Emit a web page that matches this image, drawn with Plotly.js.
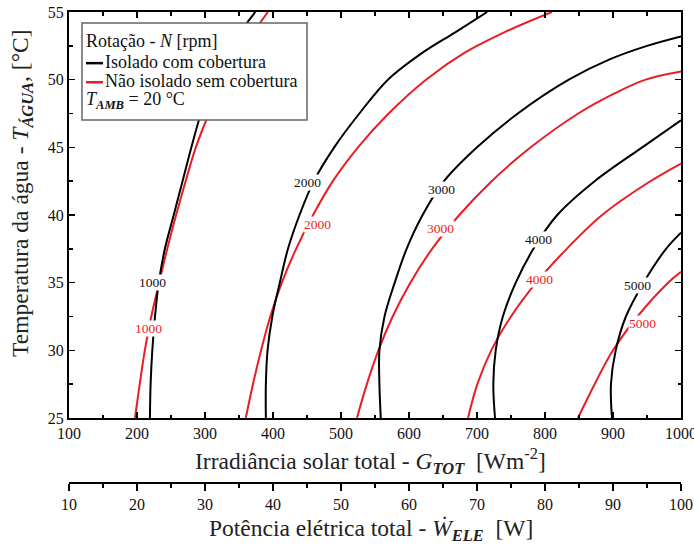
<!DOCTYPE html>
<html>
<head>
<meta charset="utf-8">
<script src="https://cdn.plot.ly/plotly-3.0.1.min.js"></script>
<style>body{margin:0;padding:0;background:#fff}#chart{width:694px;height:546px}</style>
</head>
<body>
<div id="chart"></div>
<script>
// Rotation levels [rpm]
const rpm = [1000, 2000, 3000, 4000, 5000];

// Isolado com cobertura (black): G_TOT [W/m2] vs T_AGUA [C]
const isoG1000 = [219, 220, 222.5, 226.5, 232, 241, 254, 267, 280, 294, 312, 338, 374];
const isoT1000 = [25, 27.5, 30, 32.5, 35, 37.5, 40, 42.5, 45, 47.5, 50, 52.5, 55];
const isoG2000 = [389.5, 389.5, 392, 399, 410, 422, 439, 460, 490, 527, 569, 620, 668, 715];
const isoT2000 = [25, 27.5, 30, 32.5, 35, 37.5, 40, 42.5, 45, 47.5, 50, 52, 53.5, 55];
const isoG3000 = [558.5, 556.5, 556.5, 564, 579, 596.5, 620, 651.5, 700, 760, 835, 895, 950, 1000];
const isoT3000 = [25, 27.5, 30, 32.5, 35, 37.5, 40, 42.5, 45, 47.5, 50, 51.5, 52.5, 53.2];
const isoG4000 = [726.5, 724, 727.5, 738, 757, 783, 818, 873, 943, 1000];
const isoT4000 = [25, 27.5, 30, 32.5, 35, 37.5, 40, 42.5, 45, 47];
const isoG5000 = [898.5, 897, 904, 919, 945, 978, 1000];
const isoT5000 = [25, 27.5, 30, 32.5, 35, 37.5, 38.7];

// Nao isolado sem cobertura (red)
const naoG1000 = [197, 204, 211.5, 221, 232.5, 244.5, 257.5, 271.5, 286.5, 306, 329, 358, 392.5];
const naoT1000 = [25, 27.5, 30, 32.5, 35, 37.5, 40, 42.5, 45, 47.5, 50, 52.5, 55];
const naoG2000 = [360, 370.5, 382.5, 396, 413, 434, 459, 488, 525, 570, 625, 682, 740, 810];
const naoT2000 = [25, 27.5, 30, 32.5, 35, 37.5, 40, 42.5, 45, 47.5, 50, 52, 53.5, 55];
const naoG3000 = [523.5, 538, 555, 576, 602, 634, 674, 721.5, 779, 849, 903, 948, 1000];
const naoT3000 = [25, 27.5, 30, 32.5, 35, 37.5, 40, 42.5, 45, 47.5, 49, 50, 50.6];
const naoG4000 = [686.8, 700.5, 721, 750, 787, 832, 884, 952, 1000];
const naoT4000 = [25, 27.5, 30, 32.5, 35, 37.5, 40, 42.4, 43.8];
const naoG5000 = [848.5, 873, 900, 936, 981, 1000];
const naoT5000 = [25, 27.5, 30, 32.5, 35, 35.8];

// Curve label positions (data coords)
const isoLabelG = [223.5, 450.0, 648.5, 789.7, 935.3];
const isoLabelT = [35.0, 42.4, 41.85, 38.2, 34.8];
const naoLabelG = [216.2, 465.0, 645.6, 792.6, 944.1];
const naoLabelT = [31.65, 39.3, 39.0, 35.2, 32.0];

// Secondary axis (electrical power, W)
const powerRange = [10, 100];

const BLACK = '#000000';
const RED = 'rgb(234,28,36)';
const FONT = 'Liberation Serif, Times New Roman, serif';

const isoG = [isoG1000, isoG2000, isoG3000, isoG4000, isoG5000];
const isoT = [isoT1000, isoT2000, isoT3000, isoT4000, isoT5000];
const naoG = [naoG1000, naoG2000, naoG3000, naoG4000, naoG5000];
const naoT = [naoT1000, naoT2000, naoT3000, naoT4000, naoT5000];

const traces = [];
rpm.forEach((n, i) => {
  traces.push({x: naoG[i], y: naoT[i], type: 'scatter', mode: 'lines', name: 'Não isolado ' + n,
    line: {color: RED, width: 2, shape: 'spline', smoothing: 1}, hoverinfo: 'skip', showlegend: false});
  traces.push({x: isoG[i], y: isoT[i], type: 'scatter', mode: 'lines', name: 'Isolado ' + n,
    line: {color: BLACK, width: 2, shape: 'spline', smoothing: 1}, hoverinfo: 'skip', showlegend: false});
});
// invisible trace to activate secondary x axis
traces.push({x: powerRange, y: [25, 25], xaxis: 'x2', yaxis: 'y', type: 'scatter', mode: 'markers',
  marker: {opacity: 0}, hoverinfo: 'skip', showlegend: false});

const annotations = [];
rpm.forEach((n, i) => {
  annotations.push({x: isoLabelG[i], y: isoLabelT[i], xref: 'x', yref: 'y', text: String(n), showarrow: false,
    font: {family: FONT, size: 13.5, color: '#111'}, bgcolor: '#ffffff', borderpad: 0});
  annotations.push({x: naoLabelG[i], y: naoLabelT[i], xref: 'x', yref: 'y', text: String(n), showarrow: false,
    font: {family: FONT, size: 13.5, color: RED}, bgcolor: '#ffffff', borderpad: 0});
});

const legFont = {family: FONT, size: 18, color: '#111'};
annotations.push(
  {xref: 'x domain', yref: 'y domain', x: 0.0245, y: 0.929, xanchor: 'left', yanchor: 'middle', showarrow: false,
    text: 'Rotação - <i>N</i> [rpm]', font: legFont},
  {xref: 'x domain', yref: 'y domain', x: 0.0555, y: 0.877, xanchor: 'left', yanchor: 'middle', showarrow: false,
    text: 'Isolado com cobertura', font: legFont},
  {xref: 'x domain', yref: 'y domain', x: 0.0555, y: 0.830, xanchor: 'left', yanchor: 'middle', showarrow: false,
    text: 'Não isolado sem cobertura', font: legFont},
  {xref: 'x domain', yref: 'y domain', x: 0.0245, y: 0.781, xanchor: 'left', yanchor: 'middle', showarrow: false,
    text: '<i>T</i><sub><b><i>AMB</i></b></sub> = 20 °C', font: legFont},
  // axis titles
  {xref: 'x domain', yref: 'paper', x: 0.492, y: 0.046, xanchor: 'center', yanchor: 'middle', showarrow: false,
    text: 'Irradiância solar total - <i>G</i><sub><b><i>TOT</i></b></sub>  [Wm<sup>-2</sup>]',
    font: {family: FONT, size: 23.5, color: '#222'}},
  {xref: 'x domain', yref: 'paper', x: 0.494, y: -0.099, xanchor: 'center', yanchor: 'middle', showarrow: false,
    text: 'Potência elétrica total - <i>Ẇ</i><sub><b><i>ELE</i></b></sub>  [W]',
    font: {family: FONT, size: 23.5, color: '#222'}},
  {xref: 'paper', yref: 'y domain', x: -0.078, y: 0.555, xanchor: 'center', yanchor: 'middle', showarrow: false,
    textangle: -90, text: 'Temperatura da água - <i>T</i><sub><b><i>ÁGUA</i></b></sub>, [°C]',
    font: {family: FONT, size: 23.5, color: '#222'}}
);

const shapes = [
  {type: 'rect', xref: 'x domain', yref: 'y domain', x0: 0.0212, x1: 0.3889, y0: 0.734, y1: 0.973,
    fillcolor: '#ffffff', line: {color: '#666666', width: 1.5}, layer: 'above'},
  {type: 'line', xref: 'x domain', yref: 'y domain', x0: 0.0278, x1: 0.0556, y0: 0.874, y1: 0.874,
    line: {color: BLACK, width: 2.5}, layer: 'above'},
  {type: 'line', xref: 'x domain', yref: 'y domain', x0: 0.0278, x1: 0.0556, y0: 0.827, y1: 0.827,
    line: {color: RED, width: 2.5}, layer: 'above'}
];

const tickFont = {family: FONT, size: 16, color: '#111'};
const layout = {
  width: 694, height: 546,
  margin: {l: 69, r: 13, t: 12, b: 63, pad: 0},
  paper_bgcolor: '#ffffff', plot_bgcolor: '#ffffff',
  showlegend: false,
  xaxis: {range: [100, 1000], dtick: 100, tick0: 100, anchor: 'y', ticks: 'inside', ticklen: 6, tickwidth: 1.5,
    tickcolor: '#000', showline: true, linewidth: 2, linecolor: '#000', mirror: 'ticks', showgrid: false,
    zeroline: false, tickfont: tickFont, ticklabeloverflow: 'allow',
    minor: {dtick: 50, ticks: 'inside', ticklen: 3.5, tickwidth: 1.5, tickcolor: '#000', showgrid: false}},
  xaxis2: {range: powerRange, dtick: 10, tick0: 10, overlaying: 'x', anchor: 'free', position: 0, side: 'bottom',
    ticks: 'outside', ticklen: 7, tickwidth: 1.5, tickcolor: '#000', showline: true, linewidth: 2, linecolor: '#000',
    showgrid: false, zeroline: false, tickfont: tickFont, ticklabeloverflow: 'allow',
    minor: {dtick: 5, ticks: 'outside', ticklen: 4, tickwidth: 1.5, tickcolor: '#000', showgrid: false}},
  yaxis: {range: [25, 55], dtick: 5, tick0: 25, domain: [0.138, 1], ticks: 'inside', ticklen: 6, tickwidth: 1.5,
    tickcolor: '#000', showline: true, linewidth: 2, linecolor: '#000', mirror: 'ticks', showgrid: false,
    zeroline: false, tickfont: tickFont, ticklabelstandoff: 0,
    minor: {dtick: 2.5, ticks: 'inside', ticklen: 3.5, tickwidth: 1.5, tickcolor: '#000', showgrid: false}},
  annotations: annotations,
  shapes: shapes
};

Plotly.newPlot('chart', traces, layout, {staticPlot: true, displayModeBar: false});
</script>
</body>
</html>
